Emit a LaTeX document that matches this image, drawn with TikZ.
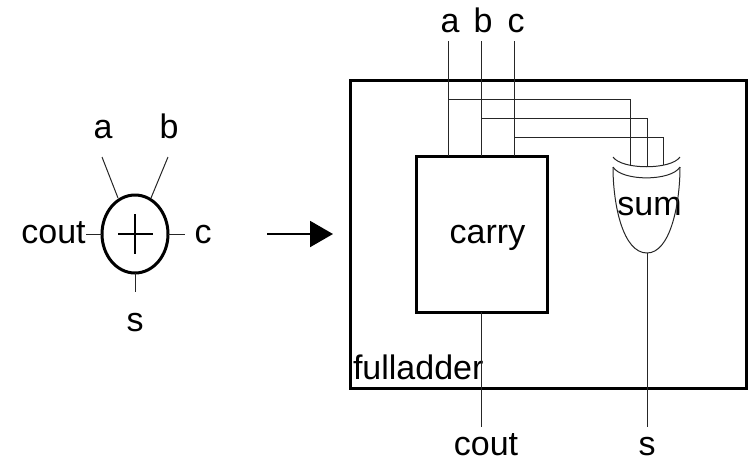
\documentclass[tikz,border=0pt]{standalone}
\usepackage{fontspec}
\setmainfont{Liberation Sans}
\usetikzlibrary{arrows.meta,shapes.geometric}
\tikzset{
  thinw/.style={line width=1pt,draw=black!85},
  thickw/.style={line width=3pt,draw=black},
  lab/.style={inner sep=0pt,outer sep=0pt,anchor=base,font=\fontsize{34}{36}\selectfont},
  blockbox/.style={thickw,rectangle,inner sep=0pt,outer sep=0pt,anchor=north west,minimum width=#1}
}
\begin{document}
\begin{tikzpicture}[x=1pt,y=-1pt]
\useasboundingbox (0,0) rectangle (753,459);
% left symbol
\node[thickw,ellipse,inner sep=0pt,outer sep=0pt,minimum width=66pt,minimum height=78pt] (fa) at (135,234) {};
\coordinate (pl) at (118,234); \coordinate (pr) at (153,234);
\coordinate (pt) at (135,214); \coordinate (pb) at (135,254);
\draw[line width=2pt] (pl) -- (pr);
\draw[line width=2pt] (pt) -- (pb);
\coordinate (ea) at (102,157); \coordinate (eat) at (118,198);
\coordinate (eb) at (168,157); \coordinate (ebt) at (151,198);
\coordinate (ecout) at (86,234); \coordinate (ec) at (185,234); \coordinate (es) at (135,292);
\draw[thinw] (ea) -- (eat);
\draw[thinw] (eb) -- (ebt);
\draw[thinw] (ecout) -- (fa.west);
\draw[thinw] (fa.east) -- (ec);
\draw[thinw] (fa.south) -- (es);
\node[lab] (la) at (103,138) {a};
\node[lab] (lb) at (169,138) {b};
\node[lab] (lcout) at (53.5,243) {cout};
\node[lab] (lc) at (203,243) {c};
\node[lab] (ls) at (135,331) {s};
% arrow
\coordinate (as) at (267,234); \coordinate (ae) at (333,234);
\draw[line width=2pt,-{Triangle[length=23pt,width=26pt]}] (as) -- (ae);
% full adder
\node[blockbox=396.5pt,minimum height=308pt] (fulladder) at (350,80) {};
\node[blockbox=131pt,minimum height=156pt] (carry) at (416,156) {};
\node[lab,anchor=base west] (lfa) at (353,379) {fulladder};
\node[lab] (lcarry) at (487.5,243) {carry};
\node[lab] (lsum) at (649.5,215) {sum};
% top labels and wires
\node[lab] (ta) at (450,32) {a};
\node[lab] (tb) at (483,32) {b};
\node[lab] (tc) at (516,32) {c};
\coordinate (wa) at (448,41); \coordinate (wb) at (481,41); \coordinate (wc) at (514,41);
\coordinate (wa2) at (448,156); \coordinate (wb2) at (481,156); \coordinate (wc2) at (514,156);
\draw[thinw] (wa) -- (wa2);
\draw[thinw] (wb) -- (wb2);
\draw[thinw] (wc) -- (wc2);
% feed wires to the gate
\coordinate (ha) at (448,99); \coordinate (hb) at (481,118); \coordinate (hc) at (514,137);
\coordinate (ga) at (630,165); \coordinate (gb) at (647,167); \coordinate (gc) at (663,165);
\draw[thinw] (ha) -| (ga);
\draw[thinw] (hb) -| (gb);
\draw[thinw] (hc) -| (gc);
% xor gate
\coordinate (g1l) at (613,157); \coordinate (g1r) at (680,157);
\coordinate (g2l) at (613,167); \coordinate (g2r) at (680,167);
\coordinate (gout) at (647,253);
\draw[thinw] (g1l) .. controls (622,170) and (671,170) .. (g1r);
\draw[thinw] (g2l) .. controls (622,181.5) and (671,181.5) .. (g2r);
\draw[thinw] (g2l) .. controls (613,205) and (623,253) .. (gout) .. controls (670,253) and (680,205) .. (g2r);
% outputs
\coordinate (ecarry) at (481,427); \coordinate (esum) at (647,427);
\draw[thinw] (carry.south -| ecarry) -- (ecarry);
\draw[thinw] (gout) -- (esum);
\node[lab] (bcout) at (486,455) {cout};
\node[lab] (bs) at (647,455) {s};
\end{tikzpicture}
\end{document}
